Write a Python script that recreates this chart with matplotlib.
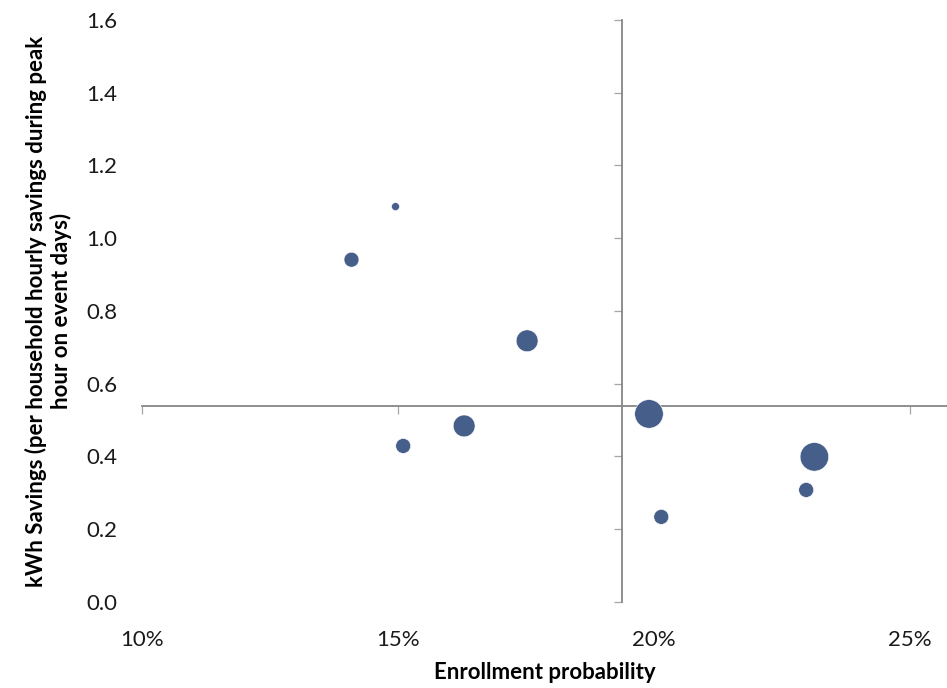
import matplotlib
matplotlib.use("Agg")
import matplotlib.pyplot as plt
from matplotlib.ticker import FuncFormatter

# enrollment probability (share), kWh savings, relative bubble size
enroll = [0.1495, 0.1409, 0.1752, 0.1629, 0.1510, 0.1990, 0.2313, 0.2297, 0.2014]
savings = [1.087, 0.941, 0.718, 0.484, 0.429, 0.517, 0.399, 0.308, 0.234]
bubble = [1.0, 3.5, 7.5, 7.5, 3.5, 12.8, 12.8, 3.5, 3.5]

x_ticks = [0.10, 0.15, 0.20, 0.25]
y_ticks = [0.0, 0.2, 0.4, 0.6, 0.8, 1.0, 1.2, 1.4, 1.6]
x_cross = 0.1937
y_cross = 0.54

plt.rcParams['font.family'] = ['Lato', 'DejaVu Sans']

fig = plt.figure(figsize=(9.47, 6.88), dpi=100)
pos = [0.15, 0.125, 0.85, 0.846]
ax = fig.add_axes(pos)

ax.scatter(enroll, savings, s=[b * 33 for b in bubble], color='#465e8a',
           edgecolors='white', linewidths=0.4, zorder=3, clip_on=False)

ax.set_xlim(0.10, 0.2572)
ax.set_ylim(0.0, 1.6)
ax.set_xticks(x_ticks)
ax.set_yticks(y_ticks)

ax.spines['top'].set_visible(False)
ax.spines['right'].set_visible(False)
ax.spines['left'].set_position(('data', x_cross))
ax.spines['bottom'].set_position(('data', y_cross))
for s in ['left', 'bottom']:
    ax.spines[s].set_color('#868686')
    ax.spines[s].set_linewidth(1.3)
ax.tick_params(labelleft=False, labelbottom=False, direction='out',
               length=6, width=0.9, color='#a6a6a6')

# labels sit at the outer edge, independent of where the axis lines cross
lab = fig.add_axes(pos, sharex=ax, sharey=ax, facecolor='none')
for s in lab.spines.values():
    s.set_visible(False)
lab.tick_params(length=0, labelsize=16, colors='#1a1a1a')
lab.tick_params(axis='y', pad=18)
lab.tick_params(axis='x', pad=20)
lab.xaxis.set_major_formatter(FuncFormatter(lambda v, p: f'{v * 100:.0f}%'))
lab.yaxis.set_major_formatter(FuncFormatter(lambda v, p: f'{v:.1f}'))

lab.set_xlabel('Enrollment probability', fontsize=16, fontweight='bold',
               labelpad=9)
lab.set_ylabel('kWh Savings (per household hourly savings during peak\nhour on event days)',
               fontsize=16, fontweight='bold', labelpad=10, linespacing=1.15)

fig.savefig('out.png', dpi=100)
